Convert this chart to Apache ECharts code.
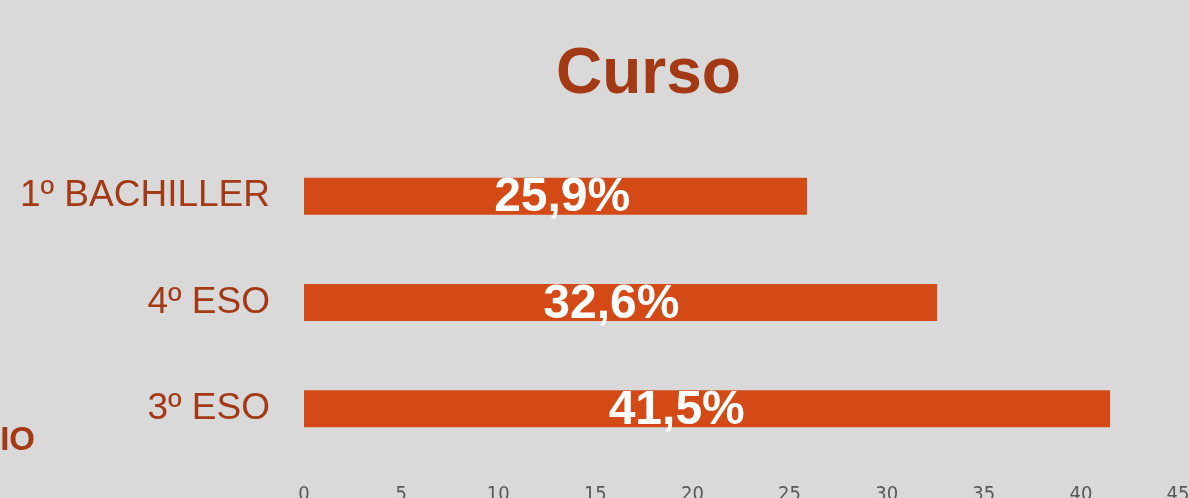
<!DOCTYPE html>
<html>
  <head>
    <meta charset="utf-8" />
    <title>Curso</title>
    <script src="https://cdn.jsdelivr.net/npm/echarts@6/dist/echarts.min.js"></script>
    <style>
      body { margin: 0; background: #d9d9d9; }
    </style>
  </head>
  <body>
    <div id="chart" style="width: 1189px; height: 498px"></div>

    <script type="text/javascript">
// Categories bottom to top, as the value axis draws them.
const courses = ['3º ESO', '4º ESO', '1º BACHILLER'];
const percentages = [41.5, 32.6, 25.9];
const percent_labels = ['41,5%', '32,6%', '25,9%'];
const x_ticks = [0, 5, 10, 15, 20, 25, 30, 35, 40, 45];

const text_color = '#a33a15';

const option = {
  backgroundColor: '#d9d9d9',
  animation: false,
  title: {
    text: 'Curso',
    left: 551,
    top: 38,
    textStyle: {
      fontFamily: 'Liberation Sans, Arial, sans-serif',
      fontSize: 64,
      fontWeight: 'bold',
      color: text_color
    }
  },
  // cut-off heading from a neighbouring chart
  graphic: [{
    type: 'text',
    right: 1154,
    top: 424,
    style: {
      text: 'IO',
      font: 'bold 33px "Liberation Sans", Arial, sans-serif',
      fill: text_color
    }
  }],
  grid: {
    left: 304,
    right: 11,
    top: 143,
    bottom: 36,
    outerBoundsMode: 'none'
  },
  xAxis: {
    type: 'value',
    min: x_ticks[0],
    max: x_ticks[x_ticks.length - 1],
    interval: 5,
    axisLine: { show: false },
    axisTick: { show: false },
    splitLine: { show: false },
    axisLabel: {
      margin: 23,
      color: '#595959',
      fontSize: 20,
      fontFamily: 'Liberation Sans Narrow, DejaVu Sans Condensed, sans-serif'
    }
  },
  yAxis: {
    type: 'category',
    data: courses,
    axisLine: { show: false },
    axisTick: { show: false },
    axisLabel: {
      margin: 34,
      color: text_color,
      fontSize: 37,
      fontFamily: 'Liberation Sans, Arial, sans-serif'
    }
  },
  series: [{
    type: 'bar',
    barWidth: 37,
    data: percentages,
    itemStyle: { color: '#d34a17' },
    label: {
      show: true,
      position: ['37.8%', '55%'],
      align: 'left',
      verticalAlign: 'middle',
      color: '#ffffff',
      fontSize: 48,
      fontWeight: 'bold',
      fontFamily: 'Liberation Sans, Arial, sans-serif',
      formatter: (p) => percent_labels[p.dataIndex]
    }
  }]
};

const chart = echarts.init(document.getElementById('chart'));
chart.setOption(option);
    </script>
  </body>
</html>
